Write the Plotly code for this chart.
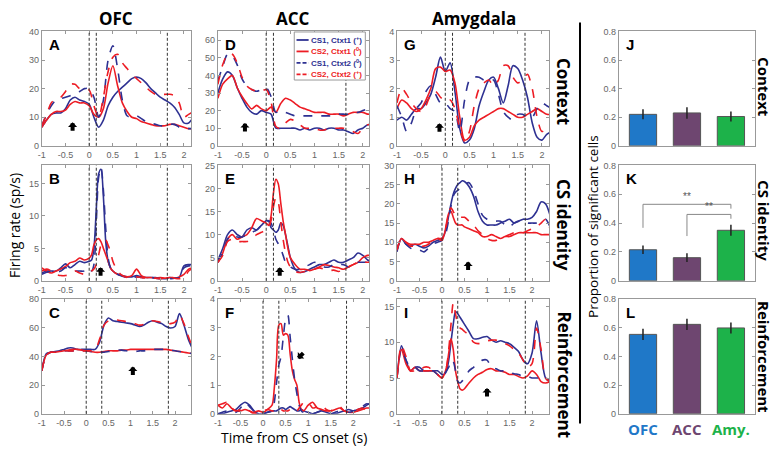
import plotly.graph_objects as go

W, H = 774, 452
BLUE = '#2e3192'
RED = '#ed1c24'

# ---------------- time grids ----------------
T1 = [-1.0,-0.9,-0.8,-0.7,-0.6,-0.5,-0.4,-0.3,-0.2,-0.1,0.0,0.1,0.2,0.3,0.4,0.5,0.6,0.7,0.8,0.9,
      1.0,1.1,1.2,1.3,1.4,1.5,1.6,1.7,1.8,1.9,2.0,2.1,2.2]
T2 = [-1.0,-0.9,-0.8,-0.7,-0.6,-0.5,-0.4,-0.3,-0.2,-0.1,0.0,
      0.05,0.1,0.15,0.2,0.25,0.3,0.35,0.4,0.45,0.5,
      0.6,0.7,0.8,0.9,1.0,1.1,1.2,1.3,1.4,1.5,1.6,1.7,1.8,1.9,2.0,2.1,2.2]
T3 = [-1.0,-0.9,-0.8,-0.7,-0.6,-0.5,-0.4,-0.3,-0.2,-0.1,0.0,0.1,0.2,0.3,0.4,0.5,0.6,0.7,0.8,0.9,
      1.0,1.1,1.2,1.3,1.4,1.5,1.6,1.7,1.8,1.9,2.0,2.1,2.2,2.3,2.4]
T4 = [-1.0,-0.9,-0.8,-0.7,-0.6,-0.5,-0.4,-0.3,-0.2,-0.1,0.0,0.1,0.2,
      0.25,0.3,0.35,0.4,0.45,0.5,0.55,0.6,0.65,0.7,0.75,0.8,0.85,0.9,
      1.0,1.1,1.2,1.3,1.4,1.5,1.6,1.7,1.8,1.9,2.0,2.1,2.2,2.3,2.4]
T5 = [-1.0,-0.9,-0.8,-0.7,-0.6,-0.5,-0.4,-0.3,-0.2,-0.1,0.0,
      0.05,0.1,0.15,0.2,0.25,0.3,0.35,0.4,0.45,0.5,
      0.6,0.7,0.8,0.9,1.0,1.1,1.2,1.3,1.4,1.5,1.6,1.7,1.8,1.9,2.0,2.1,2.2,2.3,2.4]

# ---------------- series (firing rates, sp/s) ----------------
# A: OFC context
A_b_sol = [6.5,9,11,11.5,11.5,13,16,17,16,15.5,14.5,10,6.5,9,14,17,19,20.5,22,23.5,24,23.5,22,20,18.5,17,16,15,13.5,11,8,8,10]
A_r_sol = [6.5,9,11,12,12,12.5,14.5,15.5,15,15,14,11,10,13,22,28,21,15,12,10,9.5,8.5,8,7.5,7,7,7,7.5,7.5,7,6.5,6,6]
A_b_dash = [7,11,14,16,16.5,17,17.5,18,19,20,20,17,10,16,30,35,27,16,10.5,10,10.5,9.5,8.5,8,7.5,7,7,7.5,7.5,6.5,6,6,6]
A_r_dash = [7,11,15,16.5,17,19,21.5,21.5,20,20,19.5,14,10,17,26,31,32,29,27,25,23.5,22,20.5,19,18,18,18,18,17.5,15,10,11,12]
# D: ACC context
D_b_sol = [30,38,42,40,33,27,22,19,18,20,19,18,10,10,10,10,10,9,10,9,10,10,9,10,10,9,9,8,7,9,10,12,12]
D_r_sol = [27,35,38,40,33,28,24,21,23,21,20,22,19,24,27,26,24,22,21,20,19,19,19,18,18,18,17,18,19,19,19,18,18]
D_b_dash = [37,45,52,51,46,38,34,32,31,32,33,28,19,20,19,18,17,17,17,17,17,17,17,17,17,18,18,18,19,19,20,21,22]
D_r_dash = [35,46,52,52,47,39,34,32,31,31,32,25,11,10,13,15,14,12,10,10,10,9,9,10,10,10,10,9,8,7,10,12,12]
# G: Amygdala context
G_b_sol = [0.9,1.0,0.9,1.1,1.3,1.3,1.5,1.8,2.4,3.1,2.6,2.9,1.9,0.6,0.1,0.2,0.6,1.4,1.9,2.3,2.4,2.0,1.5,2.1,2.8,2.7,2.3,1.7,0.8,0.3,0.2,0.4,0.5]
G_r_sol = [1.3,1.6,1.5,1.3,1.2,1.3,1.6,2.0,2.7,2.75,2.6,2.65,2.2,1.0,0.2,0.3,0.7,0.9,1.0,1.1,1.2,1.3,1.3,1.2,1.1,1.0,1.0,1.1,1.2,1.3,1.2,1.1,1.1]
G_b_dash = [1.4,1.0,0.5,0.8,1.3,1.5,1.9,2.1,1.8,1.5,1.5,1.3,1.2,0.5,1.6,2.3,2.4,2.4,2.3,2.3,2.3,1.8,1.2,1.0,0.9,1.1,1.1,1.0,1.0,1.3,1.5,1.4,1.3]
G_r_dash = [1.5,2.0,1.8,1.5,1.3,1.2,1.4,1.8,1.9,1.7,1.55,1.6,1.3,0.6,0.15,0.5,1.4,2.0,2.2,2.3,2.1,2.3,2.8,2.8,2.4,2.2,2.3,2.5,2.0,1.0,0.5,0.6,0.6]
# B: OFC CS identity
B_b_sol = [1.2,1.5,1.5,1.5,2.0,2.6,2.0,2.5,3.0,2.8,3.0,3.2,5,11,16.5,17.2,13,6,3,2,1.5,1.0,0.8,0.6,0.6,0.8,0.6,0.5,0.5,0.5,0.4,0.3,0.5,0.4,0.5,2.3,2.5,2.5]
B_b_dash = [1.0,1.3,1.5,1.3,1.5,2.0,1.8,1.5,1.5,1.5,2.0,1.5,2.5,9,16,17.5,14,8,3.5,2,1.5,1.0,0.7,0.5,0.5,0.6,0.5,0.4,0.5,0.4,0.3,0.4,0.3,0.4,0.5,2.0,2.3,2.3]
B_r_sol = [2.0,1.5,1.2,1.5,1.8,2.2,2.8,3.0,3.5,3.2,3.5,4.0,5.5,6.3,6.5,6.0,5.0,4.0,3.0,2.0,1.5,1.0,0.8,0.6,0.8,1.8,0.8,0.5,0.5,0.4,0.5,0.4,0.5,0.4,0.6,1.0,1.8,2.0]
B_r_dash = [1.5,1.8,1.5,1.0,0.8,0.8,1.0,1.5,1.2,1.0,1.2,1.5,1.8,2.5,4.0,5.5,6.0,6.3,5.5,4.5,3.0,1.5,0.8,0.5,0.5,0.6,0.5,0.4,0.3,0.4,0.3,0.5,0.6,0.4,0.3,0.4,1.5,2.0]
# E: ACC CS identity
E_r_sol = [4,6,9,10,9,9.5,10,11.5,13.5,13,12.5,12,14,19,22,21,17,13,10,7,5,3.5,2.5,2.5,2.2,2.5,3,3.5,3.3,3,2.8,2.5,3,3.5,4,5,5.5,5.5]
E_r_dash = [4,5.5,8.5,9,8.5,8.5,8.5,9,10,10.5,11,11.5,13,16,18,17,13,9,6,4,3,2,1.8,2,2.2,2.5,2.8,2.5,2.2,2.3,2,2.5,3,3.5,4,4,4,4]
E_b_sol = [4.5,7,10,11,10,9.5,11,11.5,11,12,13,13,11.5,11,10.5,11,12.5,12,10,7.5,5,2.5,1.8,2,2.5,3,3.5,3.5,4,4.5,4,4,4.5,5,6,5.5,4.5,4]
E_b_dash = [4,6,9,10,9.5,9.5,10,10.5,11,12,12.5,13,12.5,11,9,8,7,5.5,4,3.5,3,2.5,2.5,3,3.5,4,3.5,3,3,3.5,3.5,3.5,3,3.5,4,4,4,4]
# H: Amygdala CS identity
H_b_sol = [7.5,11,9.5,9,9.5,9,8.5,9,10,10.5,11, 12,14,17,20,22.5,24,25,25.5,26,25.8,
           24.5,22,18,15.5,14.5,14.5,14.5,15,15.5,16,15,15.5,16,16,16.5,18,20.5,20,17]
H_b_dash = [8,11,9.5,8.5,8,8,7.5,8.5,9.5,10,10.5, 11.5,13,16,19.5,22,23,23.5,24,24.5,25,
            25.5,23.5,20,17,16,15.5,15.5,15.5,14.5,14,15,15.5,15.5,15,15,15,15.5,16,14]
H_r_sol = [8,11,10,9.5,9.5,9.5,10,10,10.5,11,11, 12,15,17.5,18,16.5,15,14.5,14.5,14.5,14,
           13.5,13,12.5,11.5,11.5,12,11.5,11,11.5,11.5,12,12.5,12.5,12.5,12.5,12.5,12,12,12]
H_r_dash = [8,11,10,9,9,9,9,9.5,10.5,11,10.5, 12,14.5,17.5,19,18,17,16.5,16.5,16.5,16.5,
            15.5,14.5,13,12,11,10.5,10.5,11,11.5,12,12.5,12.5,12.5,13,13.5,14,15,16,13.5]
# C: OFC reinforcement
C_b_sol = [30,42,43,43.5,44,45,46,46,45,45,45,45,45,50,62,67,65,64.5,64,63.5,63,62,61,62,64,65,64,63,61,60,61,70,62,52,45]
C_r_dash = [30,41,43,43,43.5,44,44,44,44,44,44,44,44.5,52,62,65,66,65.5,65,64.5,64,63,62,62.5,64,65,64.5,64,63,63,64,69,63,54,46]
C_b_dash = [30,41,43,43,43.5,44,44,44,44,44,44,43.5,43,43,43,43.5,44,44.5,44.5,44,43.5,43.5,44,44,44.5,45,45,45,45,44.5,44,43.5,43,42.5,42]
C_r_sol = [30,41,43,43,43.5,44,44.5,45,45,44.5,44,43.5,43,43,43.5,44,44,44,44.5,44.5,45,45,45,45,45,45,45,45,45,44.5,44,43.5,43,42.5,42]
# F: ACC reinforcement
F_r_sol = [0.3,0.2,0.35,0.2,0.1,0.1,0.15,0.1,0.05,0.1,0.05,0.15,0.3,
           0.9,1.9,3.1,3.15,2.75,2.8,2.75,2.1,1.5,1.2,1.0,0.4,0.15,0.1,
           0.3,0.4,0.2,0.15,0.1,0.1,0.15,0.2,0.1,0.05,0.05,0.1,0.15,0.2,0.2]
F_b_dash = [0.0,0.05,0.1,0.1,0.05,0.2,0.4,0.25,0.1,0.05,0.0,0.05,0.1,
            0.4,1.1,1.7,2.0,2.7,3.3,3.45,2.7,1.9,1.2,0.7,0.3,0.1,0.05,
            0.05,0.0,0.05,0.1,0.05,0.0,0.05,0.1,0.1,0.05,0.1,0.15,0.25,0.35,0.3]
F_r_dash = [0.3,0.35,0.4,0.2,0.1,0.15,0.2,0.1,0.0,0.05,0.1,0.15,0.1,
            0.1,0.15,0.2,0.15,0.1,0.1,0.1,0.15,0.2,0.15,0.1,0.2,0.3,0.4,
            0.4,0.2,0.25,0.3,0.15,0.1,0.2,0.25,0.1,0.05,0.1,0.15,0.2,0.1,0.15]
F_b_sol = [0.0,0.0,0.05,0.1,0.15,0.3,0.4,0.3,0.1,0.0,0.0,0.05,0.1,
           0.1,0.1,0.15,0.2,0.2,0.15,0.2,0.25,0.2,0.15,0.1,0.1,0.15,0.1,
           0.05,0.0,0.05,0.1,0.05,0.0,0.0,0.05,0.1,0.15,0.1,0.15,0.2,0.3,0.4]
# I: Amygdala reinforcement
I_b_sol = [5,9.5,7.5,6,6.5,6.5,6,6,6,6,5.5, 5.5,6,7.5,10,12.5,14.3,14,13.5,13,12.5,
           11.5,10.5,10.5,10.7,10.8,10.3,10,10.2,10,9.8,9.3,8.7,7.5,7,8.5,13,8.5,5,4.5]
I_r_dash = [5,9.5,8,6,6,6,6.5,6.5,6,5.5,5, 5.5,6.5,9,12.5,15.5,14,12.5,12,11.8,11.5,
            11,10,9.8,10,10.2,10.3,10.3,10,9.8,9.5,9,8.5,7.5,6.5,7,12,9,5,4.5]
I_r_sol = [5,9,7,6,6.5,6,6,6,6,5.5,5, 5.5,6.5,8.5,10.5,9,6,4.5,3.5,3.3,3.5,
           4.3,5,5.5,5.8,6.2,6.3,6,6,5.8,5.5,5.5,5.2,5,5.3,6,5.5,4.5,4.3,4.5]
I_b_dash = [5,9,7.5,6.5,6.5,6,6,6,6,5.5,5, 5.5,6,6.5,7.5,7.3,6,4.5,4.3,4.6,5,
            6,6.5,7,7.5,7.5,6.5,6.3,6,6,5.8,5.6,5.5,5.2,5.2,5,5,5,5,4.8]

LEGEND_LABELS = ['CS1, Ctxt1 (<sup>+</sup>)', 'CS2, Ctxt1 (<sup>0</sup>)',
                 'CS1, Ctxt2 (<sup>0</sup>)', 'CS2, Ctxt2 (<sup>+</sup>)']

# ---------------- bar data ----------------
AREAS = ['OFC', 'ACC', 'Amy.']
AREA_COLORS = ['#1f78c8', '#6e4670', '#1db24a']
J_vals = [0.22, 0.23, 0.205]; J_err = [0.035, 0.04, 0.035]
K_vals = [0.215, 0.16, 0.35]; K_err = [0.03, 0.03, 0.038]
L_vals = [0.555, 0.625, 0.60]; L_err = [0.04, 0.04, 0.038]
# significance brackets in K: (x_left, y_left_bottom, x_right, y_right_bottom, y_top)
K_brackets = [(0, 0.367, 2, 0.50, 0.53), (1, 0.31, 2, 0.43, 0.46)]

# ---------------- panel specs ----------------
panels = [
    ('A', 0, 0, T1, [A_b_sol, A_r_sol, A_b_dash, A_r_dash], 2.15, 40, [0,10,20,30,40], [0, 0.15, 1.65], (-0.35, 8.2, 0, 10)),
    ('B', 0, 1, T2, [B_b_sol, B_r_sol, B_b_dash, B_r_dash], 2.15, 17.8, [0,5,10,15], [0, 0.15, 1.65], (0.24, 2.1, 0, 10)),
    ('C', 0, 2, T3, [C_b_sol, C_r_sol, C_b_dash, C_r_dash], 2.36, 80, [0,20,40,60,80], [0, 0.35, 1.85], (1.05, 33, 0, 10)),
    ('D', 1, 0, T1, [D_b_sol, D_r_sol, D_b_dash, D_r_dash], 2.13, 65, [0,10,20,30,40,50,60], [0, 0.15, 1.65], (-0.44, 13, 0, 10)),
    ('E', 1, 1, T2, [E_b_sol, E_r_sol, E_b_dash, E_r_dash], 2.13, 25, [0,5,10,15,20,25], [0, 0.15, 1.65], (0.28, 2.9, 0, 10)),
    ('F', 1, 2, T4, [F_b_sol, F_r_sol, F_b_dash, F_r_dash], 2.35, 4, [0,1,2,3,4], [0, 0.35, 1.85], (0.77, 1.93, 7, -7)),
    ('G', 2, 0, T1, [G_b_sol, G_r_sol, G_b_dash, G_r_dash], 2.15, 4, [0,1,2,3,4], [0, 0.15, 1.65], (-0.12, 0.79, 0, 10)),
    ('H', 2, 1, T5, [H_b_sol, H_r_sol, H_b_dash, H_r_dash], 2.38, 30, [0,5,10,15,20,25,30], [0, 0.35, 1.85], (0.58, 5.0, 0, 10)),
    ('I', 2, 2, T5, [I_b_sol, I_r_sol, I_b_dash, I_r_dash], 2.38, 16, [0,5,10,15], [0, 0.35, 1.85], (1.0, 3.6, 0, 10)),
]
bar_panels = [('J', 0, J_vals, J_err), ('K', 1, K_vals, K_err), ('L', 2, L_vals, L_err)]

COLS = [(38, 188), (215, 367), (395, 548)]
ROWS = [(27, 144), (164, 282), (301, 418)]
BAR_COL = (618, 755)


def dx(a, b):
    return [a / W, b / W]


def dy(a, b):
    return [1 - b / H, 1 - a / H]


def axnames(n):
    s = '' if n == 1 else str(n)
    return 'x' + s, 'y' + s, 'xaxis' + s, 'yaxis' + s


def ptext(text, xp, yp, size, angle=0, family='Open Sans, Liberation Sans', color='black'):
    return dict(text=text, xref='paper', yref='paper', x=xp / W, y=1 - yp / H, xanchor='center',
                yanchor='middle', textangle=angle, showarrow=False,
                font=dict(family=family, size=size, color=color))


STYLES = [(BLUE, 'solid'), (RED, 'solid'), (BLUE, 'dash'), (RED, 'dash')]
TICKFONT = dict(family='Liberation Sans, Arial', size=9, color='#666')
AXCOMMON = dict(showline=True, linecolor='#999', linewidth=1, mirror='ticks', ticks='inside',
                ticklen=3, tickcolor='#999', tickfont=TICKFONT, showgrid=False, zeroline=False)

fig = go.Figure()
layout = dict(width=W, height=H, margin=dict(l=0, r=0, t=0, b=0), paper_bgcolor='white',
              plot_bgcolor='white', showlegend=False)
shapes, annots = [], []

n = 0
for key, c, r, t, series, xmax, ymax, yticks, events, arrow in panels:
    n += 1
    xa, ya, xk, yk = axnames(n)
    for s, (col, dash) in zip(series, STYLES):
        fig.add_trace(go.Scatter(x=t, y=s, mode='lines', xaxis=xa, yaxis=ya,
                                 line=dict(color=col, width=1.6, dash=dash, shape='spline', smoothing=0.8),
                                 hoverinfo='skip'))
    layout[xk] = dict(AXCOMMON, domain=dx(*COLS[c]), anchor=ya, range=[-1, xmax],
                      tickvals=[-1, -0.5, 0, 0.5, 1, 1.5, 2],
                      ticktext=['-1', '-0.5', '0', '0.5', '1', '1.5', '2'])
    layout[yk] = dict(AXCOMMON, domain=dy(*ROWS[r]), anchor=xa, range=[0, ymax],
                      tickvals=yticks, ticktext=[str(v) for v in yticks])
    for e in events:
        shapes.append(dict(type='line', xref=xa, yref=ya + ' domain', x0=e, x1=e, y0=0, y1=1,
                           line=dict(color='#333', width=1, dash='3px,2px')))
    annots.append(dict(text='<b>%s</b>' % key, xref=xa + ' domain', yref=ya + ' domain', x=0.035, y=0.98,
                       xanchor='left', yanchor='top', showarrow=False,
                       font=dict(family='Liberation Sans, Arial', size=15, color='black')))
    axx, ayy, aax, aay = arrow
    annots.append(dict(x=axx, y=ayy, xref=xa, yref=ya, text='', showarrow=True, ax=aax, ay=aay,
                       arrowhead=1, arrowsize=0.38, arrowwidth=4, arrowcolor='black'))

# legend drawn inside panel D (axis 4)
leg_x0, leg_x1, leg_y0, leg_y1 = 0.505, 0.975, 0.575, 0.995
shapes.append(dict(type='rect', xref='x4 domain', yref='y4 domain', x0=leg_x0, x1=leg_x1, y0=leg_y0, y1=leg_y1,
                   line=dict(color='#999', width=1), fillcolor='white', layer='above'))
for i, (lab, (col, dash)) in enumerate(zip(LEGEND_LABELS, STYLES)):
    yy = 0.925 - i * 0.1
    shapes.append(dict(type='line', xref='x4 domain', yref='y4 domain', x0=0.52, x1=0.6, y0=yy, y1=yy,
                       line=dict(color=col, width=1.8, dash=dash if dash == 'solid' else '4px,2px'), layer='above'))
    annots.append(dict(text='<b>%s</b>' % lab, xref='x4 domain', yref='y4 domain', x=0.605, y=yy,
                       xanchor='left', yanchor='middle', showarrow=False,
                       font=dict(family='Liberation Sans, Arial', size=8, color=col)))

# bar panels
for key, r, vals, errs in bar_panels:
    n += 1
    xa, ya, xk, yk = axnames(n)
    fig.add_trace(go.Bar(x=[0, 1, 2], y=vals, xaxis=xa, yaxis=ya, width=0.62,
                         marker=dict(color=AREA_COLORS, line=dict(color='#555', width=1)),
                         error_y=dict(type='data', array=errs, color='#222', thickness=1.5, width=0),
                         hoverinfo='skip'))
    layout[xk] = dict(AXCOMMON, domain=dx(*BAR_COL), anchor=ya, range=[-0.55, 2.55],
                      showticklabels=False, ticks='')
    layout[yk] = dict(AXCOMMON, domain=dy(*ROWS[r]), anchor=xa, range=[0, 0.8],
                      tickvals=[0, 0.2, 0.4, 0.6, 0.8], ticktext=['0', '0.2', '0.4', '0.6', '0.8'])
    annots.append(dict(text='<b>%s</b>' % key, xref=xa + ' domain', yref=ya + ' domain', x=0.04, y=0.98,
                       xanchor='left', yanchor='top', showarrow=False,
                       font=dict(family='Liberation Sans, Arial', size=15, color='black')))
    if key == 'K':
        for xl, yl, xr, yr, yt in K_brackets:
            shapes.append(dict(type='path', xref=xa, yref=ya,
                               path='M %g %g L %g %g L %g %g L %g %g' % (xl, yl, xl, yt, xr, yt, xr, yr),
                               line=dict(color='#888', width=1)))
            annots.append(dict(text='**', xref=xa, yref=ya, x=(xl + xr) / 2, y=yt, xanchor='center',
                               yanchor='bottom', showarrow=False,
                               font=dict(family='Liberation Sans, Arial', size=10, color='#555')))
    if key == 'L':
        for i, (a, col) in enumerate(zip(AREAS, AREA_COLORS)):
            annots.append(dict(text='<b>%s</b>' % a, xref=xa, yref='paper', x=i, y=1 - 434 / H,
                               xanchor='center', yanchor='middle', showarrow=False,
                               font=dict(family='Open Sans, Liberation Sans', size=15, color=col)))

# titles and labels
TITLES = [('OFC', 113), ('ACC', 291), ('Amygdala', 472)]
for txt, xp in TITLES:
    annots.append(ptext('<b>%s</b>' % txt, xp, 14, 17))
ROW_LABELS = ['Context', 'CS identity', 'Reinforcement']
ROW_LABEL_Y_LEFT = [88, 225, 378]
ROW_LABEL_Y_RIGHT = [84, 220, 360]
for lab, yl, yr in zip(ROW_LABELS, ROW_LABEL_Y_LEFT, ROW_LABEL_Y_RIGHT):
    annots.append(ptext('<b>%s</b>' % lab, 563, yl, 17, angle=90))
    annots.append(ptext('<b>%s</b>' % lab, 764, yr, 15, angle=90))
annots.append(ptext('Firing rate (sp/s)', 10, 225, 14, angle=-90))
annots.append(ptext('Time from CS onset (s)', 292, 442, 14))
annots.append(ptext('Proportion of significant cells', 592, 226, 13.5, angle=-90))
shapes.append(dict(type='line', xref='paper', yref='paper', x0=579 / W, x1=579 / W, y0=1 - 18 / H, y1=1 - 428 / H,
                   line=dict(color='black', width=2)))

layout['shapes'] = shapes
layout['annotations'] = annots
fig.update_layout(**layout)
fig.write_html('out.html')
